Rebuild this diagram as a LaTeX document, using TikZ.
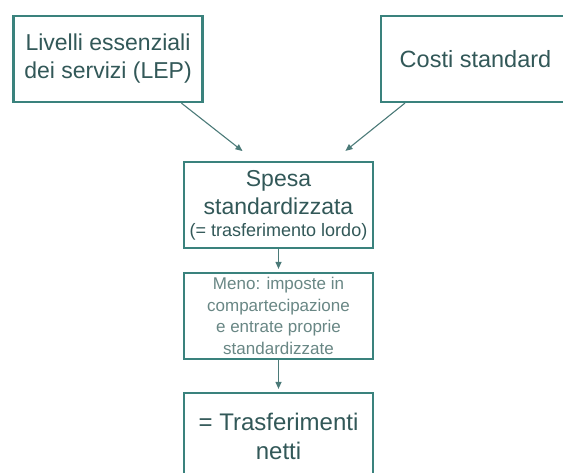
\documentclass[tikz,border=0pt]{standalone}
\usepackage{fontspec}
\setmainfont{Liberation Sans}
\usepackage{xcolor}
\usetikzlibrary{positioning,arrows.meta}
\definecolor{boxteal}{RGB}{58,130,125}
\definecolor{textteal}{RGB}{50,88,88}
\definecolor{arrowteal}{RGB}{75,122,120}
\definecolor{lightteal}{RGB}{105,135,133}
\tikzset{flow box/.style={draw=boxteal,line width=2.2pt,fill=white,text=textteal,align=center,minimum width=189pt,minimum height=86pt,inner sep=0pt},
flow arrow/.style={draw=arrowteal,line width=1.1pt,-{Triangle[length=7pt,width=6pt]}},}

\begin{document}
\begin{tikzpicture}[x=1pt,y=-1pt]
    \useasboundingbox (0,0) rectangle (563,472);
    \clip (0,0) rectangle (563,472);

    \node[flow box,font=\fontsize{23}{28}\selectfont] (1) at (108,59) {Livelli essenziali\\dei servizi (LEP)};
    \node[flow box,font=\fontsize{23.5}{28}\selectfont] (2) at (475.5,59) {Costi standard};
    \node[flow box,font=\fontsize{23}{28}\selectfont] (3) at (278.5,205) {Spesa\\standardizzata\\[-6pt]{\fontsize{18}{22}\selectfont (= trasferimento lordo)}};
    \node[flow box,font=\fontsize{17}{21.5}\selectfont,text=lightteal] (4) [below = 22.8pt of 3] {Meno: imposte in\\compartecipazione\\e entrate proprie\\standardizzate};
    \node[flow box,font=\fontsize{24}{29}\selectfont] (5) [below = 31.8pt of 4] {= Trasferimenti\\netti};

    % inputs into the standard expenditure
    \draw[flow arrow,shorten >=16pt] (1.-31.6) -- (3.118.7);
    \draw[flow arrow,shorten >=16pt] (2.-148.4) -- (3.39.7);
    \draw[flow arrow,shorten >=3pt] (3) -- (4);
    \draw[flow arrow,shorten >=3pt] (4) -- (5);
\end{tikzpicture}
\end{document}
